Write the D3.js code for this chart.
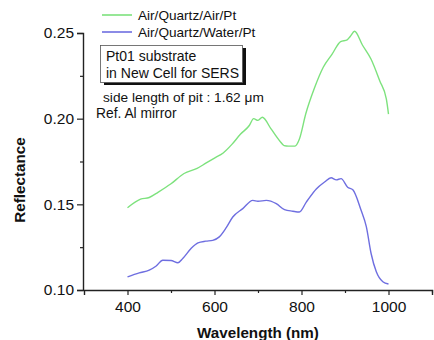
<!DOCTYPE html>
<html>
<head>
<meta charset="utf-8">
<script src="https://cdn.jsdelivr.net/npm/d3@7"></script>
<style>
  body { margin: 0; background: #fff; }
  text { font-family: Arial, "Liberation Sans", sans-serif; }
</style>
</head>
<body>
<div id="chart"></div>
<script>
// wavelength (nm) / reflectance
const airWl = [400, 430, 450, 470, 500, 530, 560, 580, 600, 620, 640, 660, 680, 690, 700, 710, 730, 750, 760, 770, 785, 795, 810, 830, 850, 870, 890, 905, 912, 922, 940, 960, 980, 995, 1000];
const airR  = [0.148, 0.153, 0.154, 0.157, 0.162, 0.168, 0.171, 0.174, 0.177, 0.180, 0.185, 0.191, 0.196, 0.2, 0.199, 0.2008, 0.194, 0.187, 0.1843, 0.184, 0.184, 0.188, 0.203, 0.218, 0.230, 0.2375, 0.245, 0.246, 0.248, 0.251, 0.243, 0.2347, 0.222, 0.2115, 0.2027];

const waterWl = [400, 427, 450, 466, 481, 500, 516, 527, 546, 562, 580, 596, 611, 627, 642, 665, 688, 700, 719, 742, 761, 780, 795, 811, 834, 853, 868, 880, 891, 906, 918, 937, 949, 960, 972, 987, 1000];
const waterR  = [0.1077, 0.110, 0.1116, 0.114, 0.1174, 0.1172, 0.1159, 0.1184, 0.1242, 0.1275, 0.1285, 0.129, 0.131, 0.1364, 0.1426, 0.1475, 0.1523, 0.1518, 0.1523, 0.1504, 0.1469, 0.146, 0.1455, 0.1513, 0.159, 0.163, 0.1655, 0.1643, 0.165, 0.160, 0.1585, 0.1465, 0.137, 0.1213, 0.1106, 0.1048, 0.1035];

const seriesNames = ["Air/Quartz/Air/Pt", "Air/Quartz/Water/Pt"];
const seriesColors = ["#7de27d", "#6e6ee0"];
const xTicks = [400, 600, 800, 1000];
const yTicks = [0.10, 0.15, 0.20, 0.25];

const width = 434, height = 340;
const svg = d3.select("#chart").append("svg")
  .attr("width", width)
  .attr("height", height);

// scales
const x = d3.scaleLinear().domain([300, 1100]).range([84, 432]);
const y = d3.scaleLinear().domain([0.10, 0.25]).range([290, 33]);

// x axis
svg.append("g")
  .attr("transform", `translate(0, ${y(0.10)})`)
  .call(d3.axisBottom(x).tickValues(xTicks).tickSize(5).tickPadding(6).tickFormat(d3.format("d")));
svg.append("g")
  .attr("transform", `translate(0, ${y(0.10)})`)
  .call(d3.axisBottom(x).tickValues([500, 700, 900, 1100]).tickSize(3).tickFormat(""))
  .select(".domain").remove();

// y axis
svg.append("g")
  .attr("transform", `translate(${x(300) - 1}, 0)`)
  .call(d3.axisLeft(y).tickValues(yTicks).tickSize(6).tickPadding(3).tickFormat(d3.format(".2f")));
svg.append("g")
  .attr("transform", `translate(${x(300) - 1}, 0)`)
  .call(d3.axisLeft(y).tickValues([0.125, 0.175, 0.225]).tickSize(3).tickFormat(""))
  .select(".domain").remove();

svg.selectAll(".domain").attr("stroke", "#222").attr("stroke-width", 1.4);
svg.selectAll(".tick line").attr("stroke", "#222").attr("stroke-width", 1.2);
svg.selectAll(".tick text").attr("font-size", 15.5).attr("fill", "#111");

// lines
const line = d3.line().x(d => x(d[0])).y(d => y(d[1])).curve(d3.curveMonotoneX);
const series = [d3.zip(airWl, airR), d3.zip(waterWl, waterR)];
series.forEach((s, i) => {
  svg.append("path")
    .datum(s)
    .attr("fill", "none")
    .attr("stroke", seriesColors[i])
    .attr("stroke-width", 1.4)
    .attr("d", line);
});

// legend
seriesNames.forEach((name, i) => {
  const ly = 15 + i * 17;
  svg.append("line")
    .attr("x1", 102).attr("x2", 132)
    .attr("y1", ly).attr("y2", ly)
    .attr("stroke", seriesColors[i])
    .attr("stroke-width", 1.6);
  svg.append("text")
    .attr("x", 138).attr("y", ly + 5)
    .attr("font-size", 13.6)
    .attr("fill", "#111")
    .text(name);
});

// note box with shadow
svg.append("rect")
  .attr("x", 104).attr("y", 48)
  .attr("width", 142).attr("height", 37)
  .attr("fill", "#111");
svg.append("rect")
  .attr("x", 100.5).attr("y", 45.5)
  .attr("width", 142).attr("height", 37)
  .attr("fill", "#fff")
  .attr("stroke", "#555")
  .attr("stroke-width", 0.8);
svg.append("text")
  .attr("x", 106).attr("y", 61)
  .attr("font-size", 14).attr("fill", "#111")
  .text("Pt01 substrate");
svg.append("text")
  .attr("x", 106).attr("y", 77.5)
  .attr("font-size", 14).attr("fill", "#111")
  .text("in New Cell for SERS");

const note = svg.append("text")
  .attr("x", 103).attr("y", 101.5)
  .attr("font-size", 13.7).attr("fill", "#111");
note.append("tspan").text("side length of pit : 1.62 ");
note.append("tspan").text("\u03bcm");
svg.append("text")
  .attr("x", 96).attr("y", 117.5)
  .attr("font-size", 13.8).attr("fill", "#111")
  .text("Ref. Al mirror");

// axis labels
svg.append("text")
  .attr("text-anchor", "middle")
  .attr("font-size", 15.2)
  .attr("font-weight", "bold")
  .attr("x", 258)
  .attr("y", 338)
  .attr("fill", "#111")
  .text("Wavelength (nm)");

svg.append("text")
  .attr("text-anchor", "middle")
  .attr("font-size", 15.2)
  .attr("font-weight", "bold")
  .attr("transform", "rotate(-90)")
  .attr("x", -180)
  .attr("y", 25)
  .attr("fill", "#111")
  .text("Reflectance");
</script>
</body>
</html>
